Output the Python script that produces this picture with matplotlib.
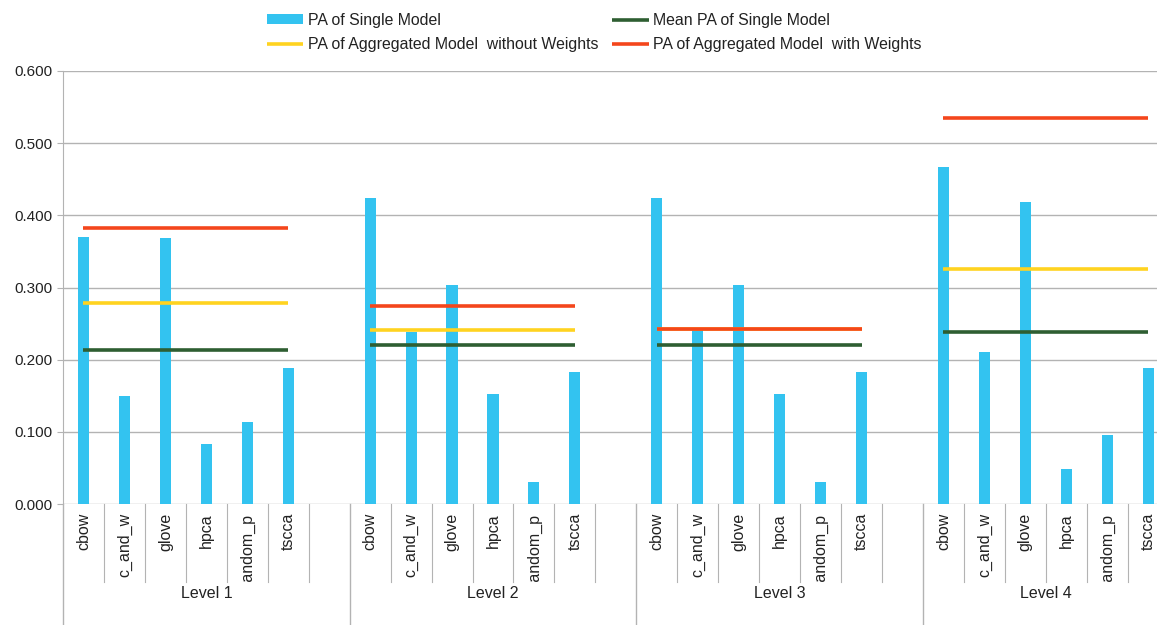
import numpy as np
import matplotlib
matplotlib.use("Agg")
import matplotlib.pyplot as plt
from matplotlib.patches import Rectangle
import matplotlib.transforms as mtransforms

plt.rcParams['font.family'] = ['Liberation Sans', 'DejaVu Sans']

# data: one row per level, one value per model
levels = ['Level 1', 'Level 2', 'Level 3', 'Level 4']
models = ['cbow', 'c_and_w', 'glove', 'hpca', 'random_p', 'tscca']

pa_single = [
    [0.370, 0.150, 0.369, 0.083, 0.114, 0.189],
    [0.424, 0.239, 0.303, 0.152, 0.031, 0.183],
    [0.424, 0.241, 0.303, 0.152, 0.031, 0.183],
    [0.467, 0.211, 0.419, 0.049, 0.095, 0.188],
]
mean_pa = [0.213, 0.221, 0.220, 0.238]
pa_agg_no_w = [0.279, 0.241, 0.243, 0.326]
pa_agg_w = [0.382, 0.274, 0.243, 0.535]

lbl_bar = 'PA of Single Model'
lbl_mean = 'Mean PA of Single Model'
lbl_no_w = 'PA of Aggregated Model  without Weights'
lbl_w = 'PA of Aggregated Model  with Weights'

# colours
c_bar = '#33c3f0'
c_green = '#2e5e32'
c_yellow = '#ffd320'
c_red = '#f4461c'
c_grid = '#b3b3b3'
c_text = '#222222'

W, H = 1157, 625
SLOT = 40.95  # px per category slot
fig = plt.figure(figsize=(W / 100, H / 100), dpi=100)
ax = fig.add_axes([63 / W, 1 - 504 / H, 1 - 63 / W, (504 - 71) / H])

# slot layout: 6 models + an empty slot after each level (except the last)
slot = 0
starts = []
for i, lev in enumerate(levels):
    starts.append(slot)
    slot += len(models) + (1 if i < len(levels) - 1 else 0)

x_all, y_all = [], []
for i, lev in enumerate(levels):
    xs = np.arange(starts[i], starts[i] + len(models))
    x_all.extend(xs)
    y_all.extend(pa_single[i])
ax.bar(x_all, y_all, width=0.27, color=c_bar, zorder=2, label=lbl_bar)

for i, lev in enumerate(levels):
    xs = np.arange(starts[i], starts[i] + len(models))
    kw = dict(lw=2.6, solid_capstyle='butt', zorder=3)
    ax.plot(xs, [mean_pa[i]] * len(xs), color=c_green,
            label=lbl_mean if i == 0 else None, **kw)
    ax.plot(xs, [pa_agg_no_w[i]] * len(xs), color=c_yellow,
            label=lbl_no_w if i == 0 else None, **kw)
    ax.plot(xs, [pa_agg_w[i]] * len(xs), color=c_red,
            label=lbl_w if i == 0 else None, **kw)

ax.set_ylim(0, 0.6)
ax.set_yticks(np.arange(0, 0.61, 0.1))
ax.set_yticklabels([f'{v:.3f}' for v in np.arange(0, 0.61, 0.1)])
ax.set_xlim(-0.5, -0.5 + (W - 63) / SLOT)
ax.set_xticks([])
ax.yaxis.grid(True, color=c_grid, lw=1.0, zorder=0)
ax.set_axisbelow(True)
for s in ['top', 'right', 'bottom']:
    ax.spines[s].set_visible(False)
ax.spines['left'].set_color(c_grid)
ax.tick_params(axis='y', length=4.3, color=c_grid, labelsize=11, pad=3.5, labelcolor=c_text)

# category separators and labels below the axis
trans = mtransforms.blended_transform_factory(ax.transData, ax.transAxes)
ax_h = (504 - 71)
short_y = -(582 - 504) / ax_h
long_y = -(H - 504) / ax_h
clip = Rectangle((0, 1 - 582 / H), 1, 582 / H, transform=fig.transFigure, visible=False)
fig.add_artist(clip)
for i, lev in enumerate(levels):
    n = len(models) + (1 if i < len(levels) - 1 else 0)
    s0 = starts[i]
    ax.plot([s0 - 0.5, s0 - 0.5], [0, long_y], transform=trans, color=c_grid,
            lw=1.0, clip_on=False)
    for k in range(1, n):
        ax.plot([s0 + k - 0.5] * 2, [0, short_y], transform=trans, color=c_grid,
                lw=0.8, clip_on=False)
    if i == len(levels) - 1:
        ax.plot([s0 + n - 0.5] * 2, [0, short_y], transform=trans, color=c_grid,
                lw=0.8, clip_on=False)
    for k, m in enumerate(models):
        t = ax.annotate(m, xy=(s0 + k, 0), xycoords=trans, xytext=(0, -6.5),
                        textcoords='offset points', rotation=90, ha='center',
                        va='top', fontsize=11.5, color=c_text, annotation_clip=False)
        t.set_clip_path(clip)
    ax.text(s0 + (n - 1) / 2, -(594 - 504) / ax_h, lev, transform=trans,
            ha='center', va='center', fontsize=11.5, color=c_text)

# legend: row 1 = bar, mean; row 2 = without weights, with weights
handles, labels = ax.get_legend_handles_labels()
by_label = dict(zip(labels, handles))
order = [lbl_bar, lbl_no_w, lbl_mean, lbl_w]  # column-major fill
fig.legend([by_label[l] for l in order], order,
           loc='upper left', bbox_to_anchor=(267 / W, 1 - 13 / H),
           ncol=2, frameon=False, fontsize=11.4, handlelength=2.3, handleheight=0.6,
           handletextpad=0.3, columnspacing=0.85, labelspacing=0.6, borderpad=0,
           borderaxespad=0, labelcolor=c_text)

fig.savefig('out.png', dpi=100)
